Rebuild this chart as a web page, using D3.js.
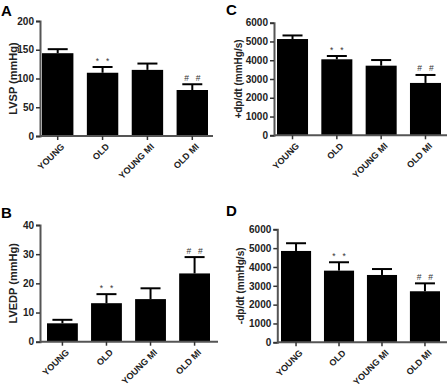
<!DOCTYPE html>
<html>
<head>
<meta charset="utf-8">
<script src="https://cdn.jsdelivr.net/npm/d3@7"></script>
<style>
body{margin:0;background:#fff;}
text{font-family:"Liberation Sans",Arial,sans-serif;}
</style>
</head>
<body>
<svg id="fig" width="447" height="391"></svg>
<script>
let groups = ['YOUNG','OLD','YOUNG MI','OLD MI'];
let marks = ['', '* *', '', '# #'];

let lvsp = [144, 110, 115, 80];
let lvspErr = [7, 10, 11, 10];
let lvedp = [6.3, 13.2, 14.6, 23.4];
let lvedpErr = [1.2, 3.1, 3.7, 5.6];
let dpPlus = [5130, 4050, 3710, 2790];
let dpPlusErr = [190, 175, 300, 425];
let dpMinus = [4850, 3805, 3575, 2710];
let dpMinusErr = [410, 445, 315, 420];

let ticksA = [0,50,100,150,200];
let ticksB = [0,10,20,30,40];
let ticksDp = [0,1000,2000,3000,4000,5000,6000];

let svg = d3.select('#fig');

function panel(p){
	let g = svg.append('g');
	let y = d3.scaleLinear().domain([0, p.max]).range([p.y0, p.y1]);
	let x = d3.scaleBand().domain(groups).range(p.band).paddingInner(0.3).paddingOuter(0);
	let cx = i => x(groups[i]) + x.bandwidth()/2;

	g.append('text')
		.attr('x', p.lx).attr('y', p.ly)
		.style('font-size', '15px').style('font-weight', 'bold')
		.text(p.letter);

	// bars
	g.selectAll('.bar').data(p.vals).enter().append('rect')
		.attr('x', (d,i) => x(groups[i]))
		.attr('y', d => y(d))
		.attr('width', x.bandwidth())
		.attr('height', d => y(0) - y(d))
		.style('fill', '#000');

	// error bars (upper only)
	let eb = g.selectAll('.err').data(p.vals).enter().append('g');
	eb.append('line')
		.attr('x1', (d,i) => cx(i)).attr('x2', (d,i) => cx(i))
		.attr('y1', d => y(d))
		.attr('y2', (d,i) => y(d + p.err[i]))
		.style('stroke', '#000').style('stroke-width', 2);
	eb.append('line')
		.attr('x1', (d,i) => cx(i) - 10).attr('x2', (d,i) => cx(i) + 10)
		.attr('y1', (d,i) => y(d + p.err[i]))
		.attr('y2', (d,i) => y(d + p.err[i]))
		.style('stroke', '#000').style('stroke-width', 2);

	// significance marks
	g.selectAll('.mark').data(p.vals).enter().append('text')
		.attr('x', (d,i) => cx(i))
		.attr('y', (d,i) => y(d + p.err[i]) - 3.5)
		.attr('text-anchor', 'middle')
		.style('font-size', '8.5px')
		.style('word-spacing', '4.5px')
		.style('fill', '#333')
		.text((d,i) => marks[i]);

	// y axis
	let ya = g.append('g')
		.attr('transform', 'translate(' + p.ax + ',0)')
		.call(d3.axisLeft(y).tickValues(p.ticks).tickSize(4).tickPadding(2).tickFormat(d3.format('d')));
	ya.select('.domain').style('stroke', '#555').style('stroke-width', 2);
	ya.selectAll('.tick line').style('stroke', '#333').style('stroke-width', 1.5);
	ya.selectAll('.tick text').style('font-size', '10px').style('font-weight', 'bold').style('fill', '#222')
		.style('font-family', '"Liberation Sans",Arial,sans-serif');

	// x axis
	g.append('line')
		.attr('x1', p.ax).attr('x2', p.axEnd)
		.attr('y1', p.y0).attr('y2', p.y0)
		.style('stroke', '#555').style('stroke-width', 2);
	g.selectAll('.xt').data(groups).enter().append('line')
		.attr('x1', d => x(d) + x.bandwidth()/2)
		.attr('x2', d => x(d) + x.bandwidth()/2)
		.attr('y1', p.y0).attr('y2', p.y0 + 4)
		.style('stroke', '#333').style('stroke-width', 1.5);
	g.selectAll('.xl').data(groups).enter().append('text')
		.attr('transform', d => 'translate(' + (x(d) + x.bandwidth()/2 + 5) + ',' + (p.y0 + 9) + ') rotate(-45)')
		.attr('text-anchor', 'end')
		.attr('dy', '0.35em')
		.style('font-size', '9px').style('font-weight', 'bold').style('fill', '#222')
		.text(d => d);

	// y label
	g.append('text')
		.attr('transform', 'translate(' + p.tx + ',' + ((p.y0 + p.y1)/2) + ') rotate(-90)')
		.attr('text-anchor', 'middle')
		.style('font-size', p.lfs).style('font-weight', 'bold').style('fill', '#222')
		.text(p.label);
}

panel({letter:'A', lx:1, ly:16, vals:lvsp, err:lvspErr, max:200, ticks:ticksA,
	y0:136, y1:21, ax:40, axEnd:213, band:[42,208], tx:17, label:'LVSP (mmHg)', lfs:'11px'});
panel({letter:'B', lx:1, ly:218, vals:lvedp, err:lvedpErr, max:40, ticks:ticksB,
	y0:341.7, y1:225, ax:40, axEnd:218, band:[47,210], tx:17, label:'LVEDP (mmHg)', lfs:'11px'});
panel({letter:'C', lx:226, ly:15, vals:dpPlus, err:dpPlusErr, max:6000, ticks:ticksDp,
	y0:135.3, y1:22.7, ax:274, axEnd:447, band:[277,441], tx:242, label:'+dp/dt (mmHg/s)', lfs:'10px'});
panel({letter:'D', lx:226, ly:216, vals:dpMinus, err:dpMinusErr, max:6000, ticks:ticksDp,
	y0:342.3, y1:229.3, ax:277.3, axEnd:447, band:[281,440], tx:244, label:'-dp/dt (mmHg/s)', lfs:'10px'});
</script>
</body>
</html>
